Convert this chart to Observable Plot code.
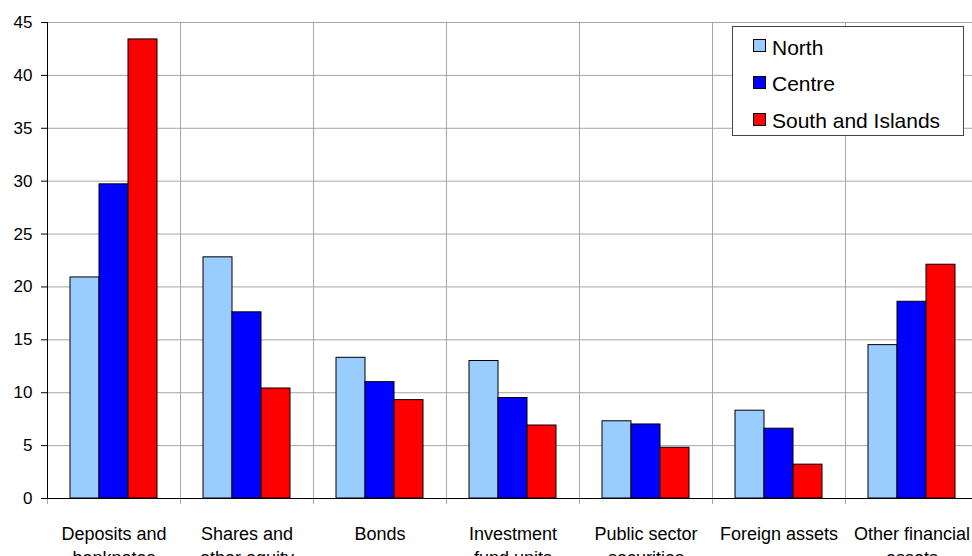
<!DOCTYPE html>
<html>
<head>
<meta charset="utf-8">
<script src="https://cdn.jsdelivr.net/npm/d3@7"></script>
<script src="https://cdn.jsdelivr.net/npm/@observablehq/plot@0.6"></script>
<style>
  html, body { margin: 0; padding: 0; overflow: hidden; background: #fff; }
  #chart { position: relative; width: 972px; height: 556px; overflow: hidden; font-family: "Liberation Sans", Arial, sans-serif; }
  #chart svg { max-width: none; }
  .legend { position: absolute; left: 732px; top: 26px; width: 230px; height: 108px; border: 1px solid #444; background: #fff; }
  .legend .row { position: absolute; left: 0; height: 20px; line-height: 20px; font-size: 21px; color: #000; white-space: nowrap; }
  .legend .sw { position: absolute; left: 20px; top: 1.5px; width: 11px; height: 11px; border: 1px solid #000; }
  .legend .lab { position: absolute; left: 39px; top: 0; }
</style>
</head>
<body>
<div id="chart"></div>
<script>
// Asset categories (line breaks as shown under the axis)
const categories = [
  "Deposits and\nbanknotes",
  "Shares and\nother equity",
  "Bonds",
  "Investment\nfund units",
  "Public sector\nsecurities",
  "Foreign assets",
  "Other financial\nassets"
];
const regions = ["North", "Centre", "South and Islands"];

// Share of financial assets (per cent) by region
const north  = [20.9, 22.8, 13.3, 13.0, 7.3, 8.3, 14.5];
const centre = [29.7, 17.6, 11.0,  9.5, 7.0, 6.6, 18.6];
const south  = [43.4, 10.4,  9.3,  6.9, 4.8, 3.2, 22.1];

const regionColors = ["#99ccff", "#0000ff", "#ff0000"];
const yTicks = [0, 5, 10, 15, 20, 25, 30, 35, 40, 45];

// Long-format table for the grouped bars
const series = [north, centre, south];
const rows = [];
categories.forEach((c, i) => {
  regions.forEach((r, j) => rows.push({category: c, region: r, value: series[j][i]}));
});

const grid = "#a6a6a6";

const chart = Plot.plot({
  width: 978,
  height: 556,
  marginLeft: 47,
  marginRight: 0,
  marginTop: 22,
  marginBottom: 58,
  style: {fontFamily: '"Liberation Sans", Arial, sans-serif', fontSize: "17px", color: "#000", background: "#fff", overflow: "hidden", maxWidth: "none"},
  fx: {domain: categories, padding: 0},
  x: {domain: regions, paddingInner: 0, paddingOuter: 0.76, axis: null},
  y: {domain: [0, 45]},
  color: {domain: regions, range: regionColors},
  marks: [
    Plot.gridY(yTicks, {stroke: grid, strokeOpacity: 1}),
    Plot.frame({anchor: "left", stroke: grid, insetBottom: -5}),
    Plot.barY(rows, {fx: "category", x: "region", y: "value", fill: "region", stroke: "#000", strokeWidth: 1}),
    Plot.ruleY([0], {stroke: "#000"}),
    Plot.frame({anchor: "left", facetAnchor: "left", stroke: "#000"}),
    Plot.axisY({ticks: yTicks, tickSize: 6, tickPadding: 9, fontSize: 17, label: null}),
    Plot.axisFx({anchor: "bottom", tickSize: 0, tickPadding: 25, fontSize: 18, lineHeight: 1.33, label: null})
  ]
});

const root = document.getElementById("chart");
root.appendChild(chart);

// Legend box
const legend = d3.select(root).append("div").attr("class", "legend");
regions.forEach((r, i) => {
  const row = legend.append("div").attr("class", "row").style("top", (10.7 + 36.7 * i) + "px");
  row.append("span").attr("class", "sw").style("background", regionColors[i]);
  row.append("span").attr("class", "lab").text(r);
});
</script>
</body>
</html>
